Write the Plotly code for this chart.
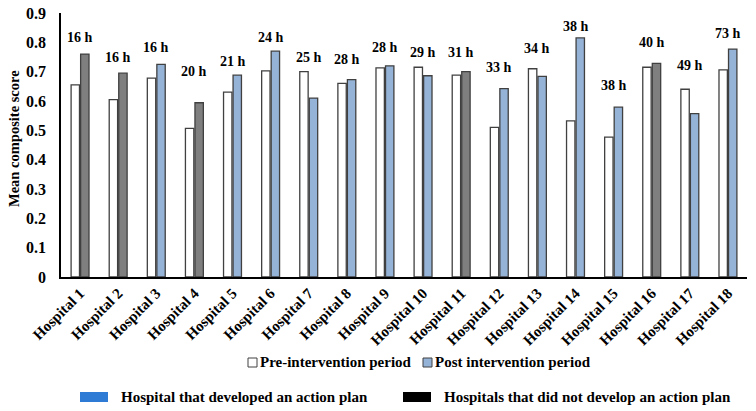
import plotly.graph_objects as go

hospitals = [f"Hospital {i}" for i in range(1, 19)]
pre_values = [0.655, 0.605, 0.678, 0.507, 0.630, 0.703, 0.700, 0.660, 0.713,
              0.715, 0.688, 0.510, 0.710, 0.532, 0.477, 0.715, 0.640, 0.706]
post_values = [0.760, 0.695, 0.725, 0.594, 0.688, 0.770, 0.610, 0.673, 0.720,
               0.686, 0.700, 0.642, 0.684, 0.815, 0.579, 0.728, 0.557, 0.777]
action_plan = [False, False, True, False, True, True, True, True, True,
               True, False, True, True, True, True, False, True, True]
hours_labels = ["16 h", "16 h", "16 h", "20 h", "21 h", "24 h", "25 h", "28 h", "28 h",
                "29 h", "31 h", "33 h", "34 h", "38 h", "38 h", "40 h", "49 h", "73 h"]
label_heights = [0.815, 0.747, 0.781, 0.699, 0.736, 0.818, 0.747, 0.740, 0.784,
                 0.764, 0.764, 0.713, 0.780, 0.853, 0.652, 0.798, 0.720, 0.829]
series_names = ["Pre-intervention period", "Post intervention period"]
plan_names = ["Hospital that developed an action plan",
              "Hospitals that did not develop an action plan"]

BLUE = "#95B3D7"
GRAY = "#7F7F7F"
EDGE = "#404040"
FONT = "Times New Roman, Liberation Serif, serif"

post_colors = [BLUE if a else GRAY for a in action_plan]

fig = go.Figure()
fig.add_trace(go.Bar(
    x=hospitals, y=pre_values, name=series_names[0], showlegend=False,
    marker=dict(color="white", line=dict(color=EDGE, width=1.3)),
))
fig.add_trace(go.Bar(
    x=hospitals, y=post_values, name=series_names[1], showlegend=False,
    marker=dict(color=post_colors, line=dict(color=EDGE, width=1.3)),
))

for h, t, yv in zip(hospitals, hours_labels, label_heights):
    fig.add_annotation(x=h, y=yv, text=f"<b>{t}</b>", showarrow=False,
                       font=dict(family=FONT, size=14, color="black"),
                       xanchor="center", yanchor="middle")

L, R, T, B = 61, 747, 13, 277


def px_x(p):
    return (p - L) / (R - L)


def px_y(p):
    return (B - p) / (B - T)


# y axis title
fig.add_annotation(xref="paper", yref="paper", x=px_x(14), y=px_y(139),
                   text="<b>Mean composite score</b>", textangle=-90, showarrow=False,
                   xanchor="center", yanchor="middle",
                   font=dict(family=FONT, size=14.5, color="black"))

# series legend (row 1)
legend_items = [(248, "white", series_names[0], 259), (423, BLUE, series_names[1], 434)]
for sx, col, name, tx in legend_items:
    fig.add_shape(type="rect", xref="paper", yref="paper",
                  x0=px_x(sx), x1=px_x(sx + 9), y0=px_y(367), y1=px_y(358),
                  fillcolor=col, line=dict(color=EDGE, width=1))
    fig.add_annotation(xref="paper", yref="paper", x=px_x(tx), y=px_y(362),
                       text=f"<b>{name}</b>", showarrow=False,
                       xanchor="left", yanchor="middle", xshift=-1,
                       font=dict(family=FONT, size=15, color="black"))

# action plan legend (row 2)
plan_items = [(80, "#2E7BD6", plan_names[0], 120), (403, "black", plan_names[1], 443)]
for sx, col, name, tx in plan_items:
    fig.add_shape(type="rect", xref="paper", yref="paper",
                  x0=px_x(sx), x1=px_x(sx + 28), y0=px_y(402), y1=px_y(392),
                  fillcolor=col, line=dict(width=0))
    fig.add_annotation(xref="paper", yref="paper", x=px_x(tx), y=px_y(397),
                       text=f"<b>{name}</b>", showarrow=False,
                       xanchor="left", yanchor="middle", xshift=-1,
                       font=dict(family=FONT, size=15, color="black"))

fig.update_layout(
    width=756, height=411,
    margin=dict(l=L, r=756 - R, t=T, b=411 - B, autoexpand=False),
    plot_bgcolor="white", paper_bgcolor="white",
    barmode="group", bargap=0.5, bargroupgap=0.12,
    font=dict(family=FONT, color="black"),
    showlegend=False,
    xaxis=dict(tickangle=-45, showline=True, linecolor="black", linewidth=1.5,
               tickfont=dict(family=FONT, size=15, color="black", weight="bold"),
               ticks="", showgrid=False, automargin=False),
    yaxis=dict(range=[0, 0.9], dtick=0.1, tickformat=".1~f", showline=True,
               linecolor="black", linewidth=1.5, showgrid=False, zeroline=False,
               tickfont=dict(family=FONT, size=16, color="black", weight="bold"),
               ticks="", ticklabelstandoff=10, automargin=False),
)

fig.write_html("out.html", config={"displayModeBar": False},
               post_script="document.body.style.margin='0px';document.body.style.overflow='hidden';")
